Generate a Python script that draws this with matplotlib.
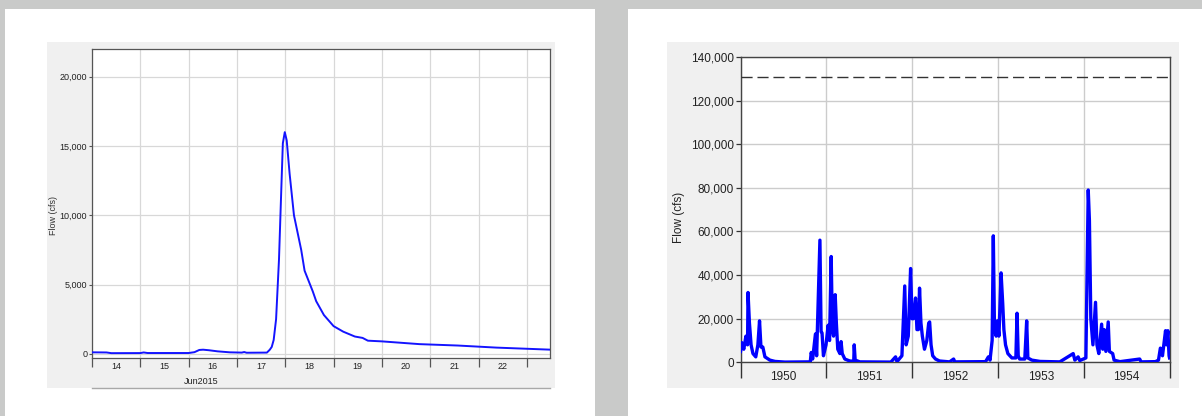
import matplotlib
matplotlib.use("Agg")
import matplotlib.pyplot as plt
import matplotlib.dates as mdates
from matplotlib.patches import Rectangle
from matplotlib.lines import Line2D
from matplotlib.ticker import FuncFormatter
import datetime as dt

plt.rcParams['font.family'] = ['Liberation Sans', 'DejaVu Sans']

# ---------------- data: left chart (June 2015 event hydrograph) ----------------
left_day = [14.0, 14.3, 14.4, 15.0, 15.07, 15.15, 16.0, 16.12, 16.22, 16.3, 16.42,
            16.6, 16.85, 17.1, 17.15, 17.2, 17.62, 17.68, 17.72, 17.76, 17.81, 17.87,
            17.92, 17.95, 17.99, 18.03, 18.09, 18.18, 18.33, 18.40, 18.57, 18.64,
            18.80, 19.0, 19.2, 19.44, 19.6, 19.71, 20.0, 20.78, 21.57, 22.37, 23.5]
left_flow = [110, 100, 50, 55, 100, 60, 60, 120, 280, 300, 260,
             180, 110, 90, 130, 80, 90, 300, 500, 1000, 2500, 6800,
             12100, 15200, 16000, 15400, 13000, 10000, 7500, 6000, 4500, 3800,
             2800, 2000, 1600, 1250, 1150, 950, 900, 700, 600, 450, 300]
left_yticks = [0, 5000, 10000, 15000, 20000]
left_day_labels = ['14', '15', '16', '17', '18', '19', '20', '21', '22']

# ---------------- data: right chart (1950-1954 daily flows) ----------------
right_dates = [
    '1950-01-01', '1950-01-07', '1950-01-15', '1950-01-24', '1950-01-31', '1950-02-02',
    '1950-02-08', '1950-02-15', '1950-02-23', '1950-03-07', '1950-03-16', '1950-03-23',
    '1950-03-29', '1950-04-06', '1950-04-15', '1950-05-06', '1950-05-28', '1950-07-09',
    '1950-10-25', '1950-10-29', '1950-11-04', '1950-11-16', '1950-11-21', '1950-12-05',
    '1950-12-10', '1950-12-14', '1950-12-20', '1950-12-31', '1951-01-09', '1951-01-15',
    '1951-01-22', '1951-01-27', '1951-02-01', '1951-02-08', '1951-02-13', '1951-02-19',
    '1951-02-28', '1951-03-05', '1951-03-10', '1951-03-21', '1951-04-11', '1951-04-28',
    '1951-04-30', '1951-05-04', '1951-05-24', '1951-10-03', '1951-10-23', '1951-10-29',
    '1951-11-19', '1951-12-01', '1951-12-07', '1951-12-16', '1951-12-26', '1952-01-01',
    '1952-01-07', '1952-01-16', '1952-01-22', '1952-01-28', '1952-02-02', '1952-02-08',
    '1952-02-14', '1952-02-23', '1952-03-04', '1952-03-12', '1952-03-16', '1952-03-22',
    '1952-03-29', '1952-04-10', '1952-04-27', '1952-06-09', '1952-06-26', '1952-07-01',
    '1952-11-09', '1952-11-21', '1952-11-28', '1952-12-07', '1952-12-12', '1952-12-17',
    '1952-12-24', '1952-12-29', '1953-01-05', '1953-01-14', '1953-01-21', '1953-01-26',
    '1953-02-02', '1953-02-12', '1953-03-01', '1953-03-18', '1953-03-23', '1953-03-28',
    '1953-04-03', '1953-04-25', '1953-05-03', '1953-05-08', '1953-05-25', '1953-06-29',
    '1953-09-21', '1953-11-17', '1953-11-24', '1953-12-08', '1953-12-15', '1954-01-10',
    '1954-01-20', '1954-01-25', '1954-01-31', '1954-02-09', '1954-02-20', '1954-02-26',
    '1954-03-06', '1954-03-18', '1954-03-23', '1954-03-29', '1954-04-05', '1954-04-15',
    '1954-04-20', '1954-05-04', '1954-05-10', '1954-06-04', '1954-08-27', '1954-09-02',
    '1954-11-02', '1954-11-15', '1954-11-23', '1954-12-02', '1954-12-15', '1954-12-19',
    '1954-12-25', '1954-12-30', '1955-01-01']
right_flow = [
    5000, 9000, 6000, 12000, 8000, 32000,
    18000, 8000, 4000, 2500, 8000, 19000,
    7000, 7000, 2500, 1000, 400, 100,
    200, 4500, 1500, 13000, 3000, 56000,
    14000, 13500, 3000, 8000, 17000, 10000,
    48500, 15000, 12000, 31000, 18000, 6000,
    4000, 9500, 4000, 1500, 600, 500,
    8000, 1000, 200, 100, 2500, 300,
    3000, 35000, 8000, 12000, 43000, 20000,
    20000, 29500, 15000, 15000, 34000, 18000,
    12000, 6000, 10000, 18000, 18500, 8000,
    3000, 1500, 600, 200, 1500, 200,
    300, 2500, 1000, 10000, 58000, 15000,
    12000, 19000, 12000, 41000, 27000, 15000,
    8000, 4000, 2000, 2000, 22500, 3000,
    1500, 1500, 19000, 2000, 1000, 400,
    200, 4000, 1000, 2500, 800, 2000,
    79000, 65000, 20000, 8000, 27500, 8000,
    4000, 17500, 6000, 15000, 5000, 18500,
    5000, 4000, 1000, 300, 1500, 200,
    300, 1000, 6500, 3000, 14500, 8000,
    14500, 3000, 2000]
right_threshold = 130800
right_yticks = [0, 20000, 40000, 60000, 80000, 100000, 120000, 140000]
right_years = [1950, 1951, 1952, 1953, 1954]

# ---------------- figure layout ----------------
W, H = 1202, 416
fig = plt.figure(figsize=(W / 100, H / 100), dpi=100, facecolor='#c9cac9')


def fr(x0, y0, x1, y1):
    return [x0 / W, 1 - y1 / H, (x1 - x0) / W, (y1 - y0) / H]


def rect(x0, y0, x1, y1, color):
    l, b, w, h = fr(x0, y0, x1, y1)
    fig.add_artist(Rectangle((l, b), w, h, transform=fig.transFigure,
                             facecolor=color, edgecolor='none', zorder=0))


rect(5, 9, 595, 416, 'white')
rect(628, 9, 1202, 416, 'white')
rect(47, 42, 555, 388, '#f0f0f0')
rect(667, 42, 1179, 388, '#f0f0f0')

txt_color = '#222222'
spine_color = '#555555'
grid_color = '#d8d8d8'
comma = FuncFormatter(lambda v, p: f'{int(v):,}')

# ---------------- left chart ----------------
ax1 = fig.add_axes(fr(92, 49, 550, 358))
ax1.set_facecolor('white')
base = dt.datetime(2015, 6, 1)
lx = [base + dt.timedelta(days=d - 1) for d in left_day]
ax1.plot(lx, left_flow, color='#1414ff', lw=1.4, zorder=3)
ax1.set_xlim(dt.datetime(2015, 6, 14), dt.datetime(2015, 6, 23, 11, 30))
ax1.set_ylim(-300, 22000)
ax1.set_yticks(left_yticks)
ax1.yaxis.set_major_formatter(comma)
ax1.xaxis.set_major_locator(mdates.DayLocator())
ax1.xaxis.set_major_formatter(plt.NullFormatter())
mids = [dt.datetime(2015, 6, int(s), 12) for s in left_day_labels]
ax1.set_xticks(mids, minor=True)
ax1.set_xticklabels(left_day_labels, minor=True)
ax1.tick_params(axis='x', which='major', length=6.5, width=0.9, color=spine_color, direction='out')
ax1.tick_params(axis='x', which='minor', length=0, pad=3.2, labelsize=6.5, labelcolor=txt_color)
ax1.tick_params(axis='y', length=2.5, width=0.8, color=spine_color, pad=1, labelsize=6.5,
                labelcolor=txt_color)
ax1.grid(True, which='major', color=grid_color, lw=0.9)
for s in ax1.spines.values():
    s.set_color(spine_color)
    s.set_linewidth(0.9)
fig.text(53.5 / W, 1 - 215 / H, 'Flow (cfs)', rotation=90, ha='center', va='center',
         fontsize=6.5, color='#333333')
fig.text(201 / W, 1 - 382 / H, 'Jun2015', ha='center', va='center', fontsize=6.5, color=txt_color)
fig.add_artist(Line2D([92 / W, 550 / W], [1 - 388 / H, 1 - 388 / H], transform=fig.transFigure,
                      color='#a8a8a8', lw=1.0))

# ---------------- right chart ----------------
ax2 = fig.add_axes(fr(740.5, 57, 1170, 362.3))
ax2.set_facecolor('white')
rx = [dt.datetime.strptime(s, '%Y-%m-%d') for s in right_dates]
ax2.plot(rx, right_flow, color='#0000ff', lw=2.4, zorder=3)
ax2.axhline(right_threshold, color='#333333', lw=1.0, ls=(0, (8, 3.5)), zorder=4)
ax2.set_xlim(dt.datetime(1950, 1, 1), dt.datetime(1955, 1, 3))
ax2.set_ylim(0, 140000)
ax2.set_yticks(right_yticks)
ax2.yaxis.set_major_formatter(comma)
ax2.xaxis.set_major_locator(mdates.YearLocator())
ax2.xaxis.set_major_formatter(plt.NullFormatter())
ymids = [dt.datetime(y, 7, 2) for y in right_years]
ax2.set_xticks(ymids, minor=True)
ax2.set_xticklabels([str(y) for y in right_years], minor=True)
ax2.tick_params(axis='x', which='major', length=11.5, width=1.0, color='#333333', direction='out')
ax2.tick_params(axis='x', which='minor', length=0, pad=6.3, labelsize=8.5, labelcolor=txt_color)
ax2.tick_params(axis='y', length=3.6, width=0.9, color='#333333', pad=1.2, labelsize=8.5,
                labelcolor=txt_color)
ax2.grid(True, which='major', color='#cccccc', lw=1.0)
for s in ax2.spines.values():
    s.set_color('#444444')
    s.set_linewidth(1.0)
fig.text(678.5 / W, 1 - 217 / H, 'Flow (cfs)', rotation=90, ha='center', va='center',
         fontsize=8.5, color=txt_color)

fig.savefig('out.png', dpi=100, facecolor=fig.get_facecolor())
